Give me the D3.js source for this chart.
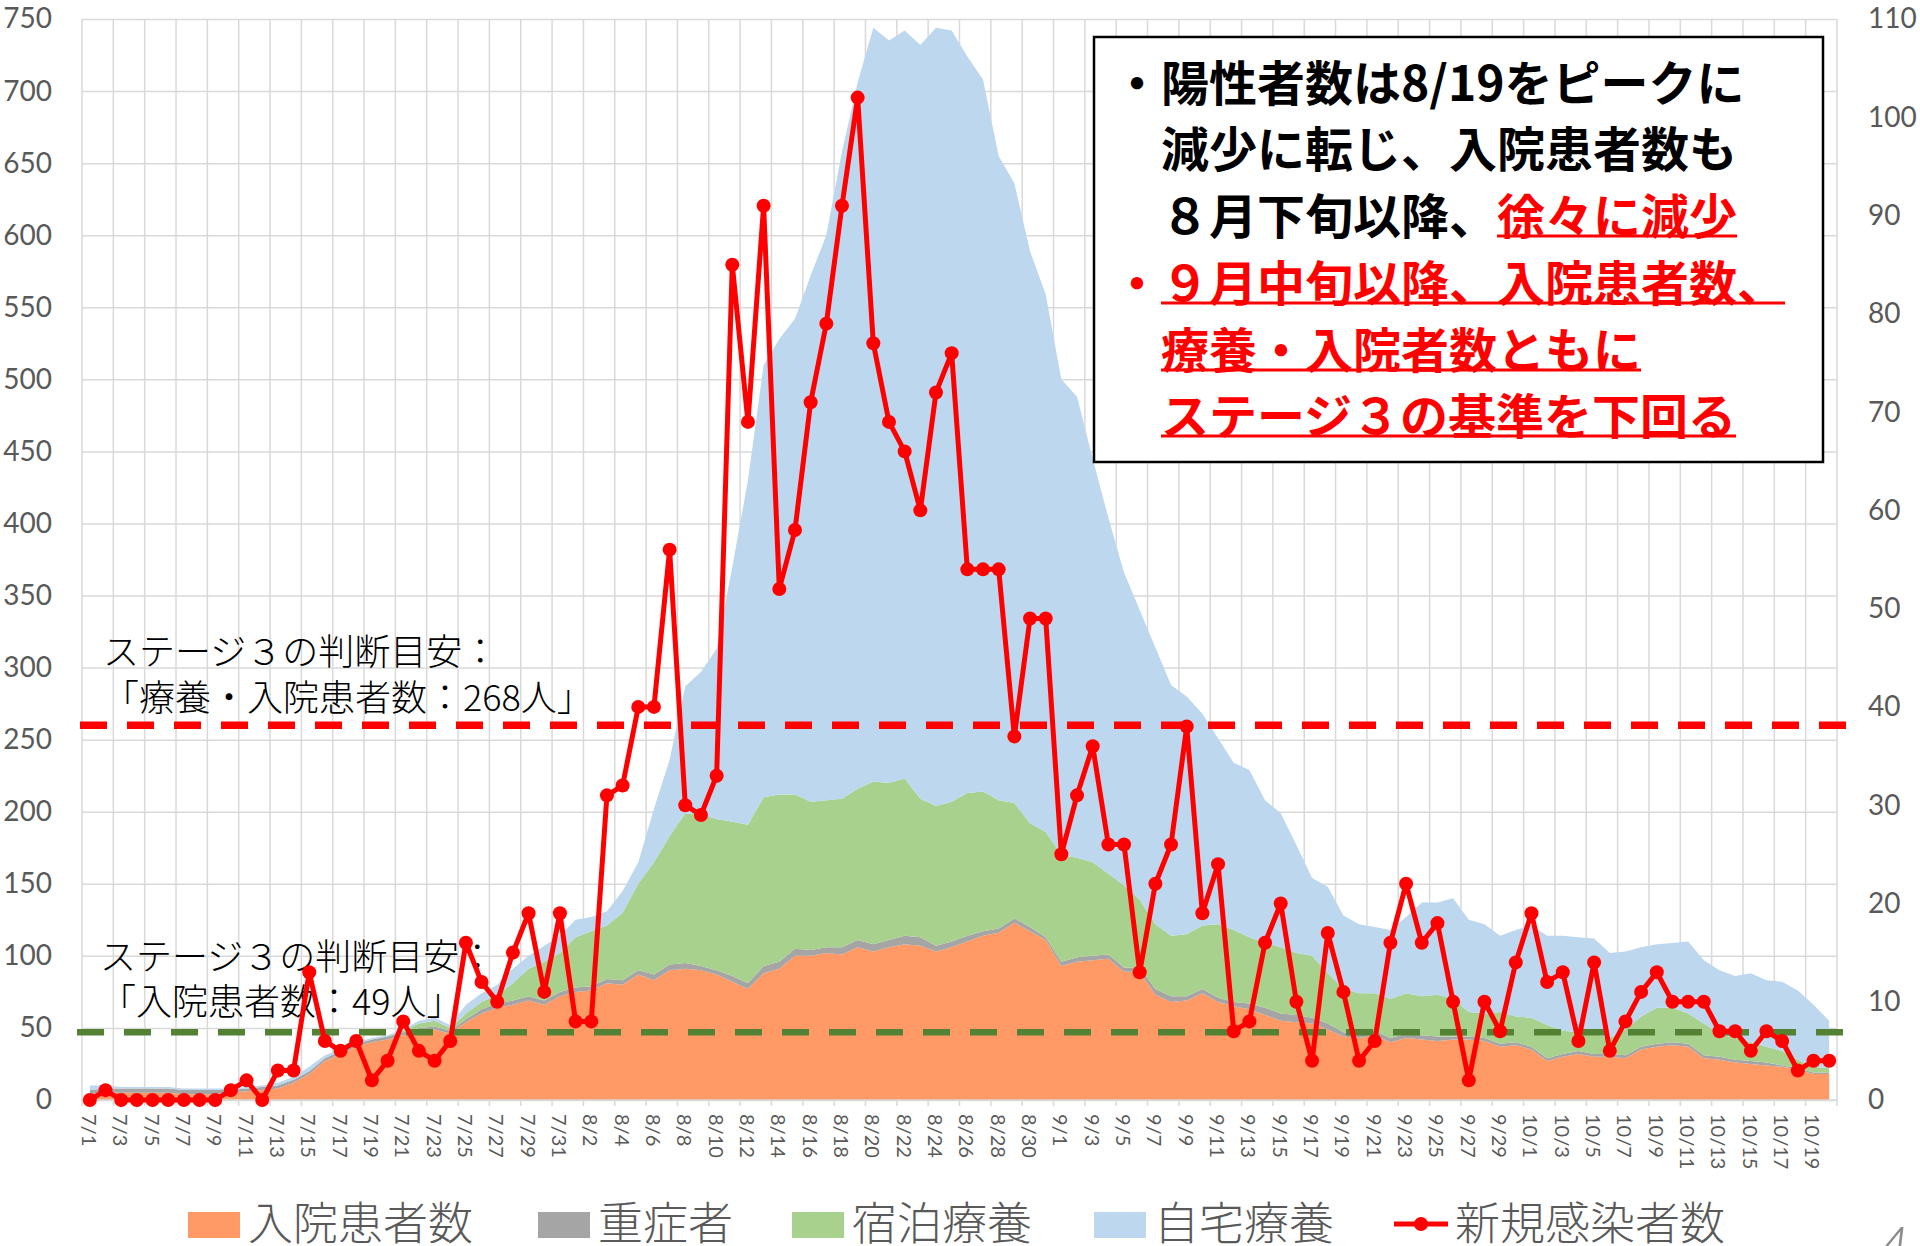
<!DOCTYPE html>
<html><head><meta charset="utf-8">
<script src="https://cdn.jsdelivr.net/npm/d3@7"></script>
<style>body{margin:0;background:#fff;} svg{display:block;}</style>
</head><body>
<svg id="chart" width="1920" height="1246"></svg>
<script>
// ---------- data ----------
const categories = [
 "7/1","7/2","7/3","7/4","7/5","7/6","7/7","7/8","7/9","7/10","7/11","7/12","7/13","7/14","7/15","7/16","7/17","7/18","7/19","7/20","7/21","7/22","7/23","7/24","7/25","7/26","7/27","7/28","7/29","7/30","7/31",
 "8/1","8/2","8/3","8/4","8/5","8/6","8/7","8/8","8/9","8/10","8/11","8/12","8/13","8/14","8/15","8/16","8/17","8/18","8/19","8/20","8/21","8/22","8/23","8/24","8/25","8/26","8/27","8/28","8/29","8/30","8/31",
 "9/1","9/2","9/3","9/4","9/5","9/6","9/7","9/8","9/9","9/10","9/11","9/12","9/13","9/14","9/15","9/16","9/17","9/18","9/19","9/20","9/21","9/22","9/23","9/24","9/25","9/26","9/27","9/28","9/29","9/30",
 "10/1","10/2","10/3","10/4","10/5","10/6","10/7","10/8","10/9","10/10","10/11","10/12","10/13","10/14","10/15","10/16","10/17","10/18","10/19","10/20"];

// 入院患者数
const hospitalized = [
 4,5,5,5,5,5,4,4,4,5,6,7,8,12,18,27,32,37,40,42,45,48,49,46,54,60,64,66,69,66,72,
 75,76,81,80,87,83,90,91,90,87,82,77,88,91,100,100,102,101,106,103,106,108,107,103,106,110,114,116,123,117,111,
 93,96,97,98,89,89,73,68,69,74,68,65,63,59,55,54,53,49,44,43,45,40,43,42,41,42,42,41,37,38,
 35,27,30,32,30,30,29,35,37,38,37,29,28,26,25,24,23,21,18,18];
// 重症者
const severe = [
 3,3,3,3,3,3,3,3,3,2,2,2,2,2,2,2,2,2,2,2,2,2,2,2,2,3,3,3,3,3,3,
 3,3,3,3,3,4,4,4,3,3,4,4,5,5,5,4,4,5,5,5,5,6,6,4,4,4,3,3,3,3,2,
 3,3,3,3,3,3,4,4,3,3,3,3,4,5,5,5,4,4,3,3,3,3,3,3,3,2,2,2,2,2,
 2,2,2,2,2,2,2,2,2,2,2,2,2,2,2,2,1,1,1,1];
// 宿泊療養
const hotel = [
 0,0,0,0,0,0,0,0,0,0,0,0,0,0,0,0,0,0,0,0,1,3,4,2,4,5,6,12,19,27,27,
 35,38,37,47,60,78,89,104,105,105,107,110,117,116,107,103,102,103,105,113,109,109,96,97,97,99,97,89,80,72,73,
 74,69,65,56,57,47,45,42,43,44,51,50,46,45,46,43,43,35,30,28,26,27,28,27,29,26,17,17,22,18,
 20,23,16,13,14,11,18,21,25,24,21,22,16,15,13,11,10,6,4,3];
// 自宅療養
const home = [
 3,2,1,1,1,1,1,1,1,1,1,1,2,2,3,2,1,1,1,1,1,2,2,2,6,6,7,10,9,11,12,
 12,10,10,15,15,37,53,88,99,118,177,239,300,316,330,365,392,449,490,523,515,519,523,540,535,511,494,447,430,397,373,
 330,320,280,247,217,201,192,174,165,147,129,116,116,99,93,75,54,60,51,48,46,48,53,65,64,70,64,62,53,60,
 64,62,66,66,66,59,54,48,44,45,50,44,44,43,48,46,48,48,43,33];
// 新規感染者数 (right axis)
const newCases = [
 0,1,0,0,0,0,0,0,0,1,2,0,3,3,13,6,5,6,2,4,8,5,4,6,16,12,10,15,19,11,19,
 8,8,31,32,40,40,56,30,29,33,85,69,91,52,58,71,79,91,102,77,69,66,60,72,76,54,54,54,37,49,49,
 25,31,36,26,26,13,22,26,38,19,24,7,8,16,20,10,4,17,11,4,6,16,22,16,18,10,2,10,7,14,
 19,12,13,6,14,5,8,11,13,10,10,10,7,7,5,7,6,3,4,4];

const tickLabels = categories.filter((d, i) => i % 2 === 0);
const leftTicks = [0,50,100,150,200,250,300,350,400,450,500,550,600,650,700,750];
const rightTicks = [0,10,20,30,40,50,60,70,80,90,100,110];
const seriesNames = ["入院患者数","重症者","宿泊療養","自宅療養"];
const seriesColors = ["#FF9966","#A5A5A5","#A9D18E","#BDD7EE"];
const lineName = "新規感染者数";
const stage3TotalLine = 260;   // 療養・入院患者数 の目安線（左軸）
const stage3HospLine = 47;     // 入院患者数 の目安線（左軸）

// ---------- setup ----------
const svg = d3.select("#chart");
const P = {left: 82, right: 1837, top: 19, bottom: 1100};
const JP = "'Noto Sans CJK JP', 'Noto Sans CJK SC', sans-serif";
const NUM = "Lato, 'Liberation Sans', sans-serif";

svg.append("rect").attr("width", 1920).attr("height", 1246).attr("fill", "#fff");

const x = d3.scaleBand().domain(categories).range([P.left, P.right]).padding(0);
const cx = d => x(d) + x.bandwidth() / 2;
const yL = d3.scaleLinear().domain([0, 750]).range([P.bottom, P.top]);
const yR = d3.scaleLinear().domain([0, 110]).range([P.bottom, P.top]);

// horizontal grid + left axis labels
const gL = svg.append("g").attr("transform", `translate(${P.left},0)`)
  .call(d3.axisLeft(yL).tickValues(leftTicks).tickSize(-(P.right - P.left)).tickPadding(30));
gL.attr("font-family", null).attr("font-size", null);
gL.select(".domain").remove();
gL.selectAll("line").attr("stroke", "#D9D9D9").attr("stroke-width", 1.5);
gL.selectAll("text").attr("fill", "#595959").style("font-family", NUM).style("font-size", "28px");

// vertical grid lines (every 2 categories) with small tick marks below axis
const vBounds = categories.filter((d, i) => i % 2 === 0).map(d => x(d)).concat([P.right]);
svg.append("g").selectAll("line").data(vBounds).join("line")
  .attr("x1", d => d).attr("x2", d => d).attr("y1", P.top).attr("y2", P.bottom + 6)
  .attr("stroke", "#D9D9D9").attr("stroke-width", 1.5);

// stacked areas
const rows = categories.map((c, i) => ({cat: c, "入院患者数": hospitalized[i], "重症者": severe[i], "宿泊療養": hotel[i], "自宅療養": home[i]}));
const stacked = d3.stack().keys(seriesNames)(rows);
const area = d3.area().x(d => cx(d.data.cat)).y0(d => yL(d[0])).y1(d => yL(d[1]));
svg.append("g").selectAll("path").data(stacked).join("path")
  .attr("d", area).attr("fill", (d, i) => seriesColors[i]);

// x axis line
svg.append("line").attr("x1", P.left).attr("x2", P.right).attr("y1", P.bottom).attr("y2", P.bottom)
  .attr("stroke", "#D9D9D9").attr("stroke-width", 1.5);

// reference dashed lines
svg.append("line").attr("x1", 80).attr("x2", 1848).attr("y1", yL(stage3TotalLine)).attr("y2", yL(stage3TotalLine))
  .attr("stroke", "#FF0000").attr("stroke-width", 7.5).attr("stroke-dasharray", "27 20");
svg.append("line").attr("x1", 77).attr("x2", 1846).attr("y1", yL(stage3HospLine)).attr("y2", yL(stage3HospLine))
  .attr("stroke", "#548235").attr("stroke-width", 6.5).attr("stroke-dasharray", "27 20");

// annotations
const ann = svg.append("g").style("font-family", JP).style("font-size", "36px").style("font-weight", 300).attr("fill", "#000");
ann.append("text").attr("x", 103).attr("y", 649).attr("dominant-baseline", "central").text("ステージ３の判断目安：");
ann.append("text").attr("x", 103).attr("y", 695).attr("dominant-baseline", "central").text("「療養・入院患者数：268人」");
ann.append("text").attr("x", 100).attr("y", 954).attr("dominant-baseline", "central").text("ステージ３の判断目安：");
ann.append("text").attr("x", 100).attr("y", 999).attr("dominant-baseline", "central").text("「入院患者数：49人」");

// new cases line (right axis)
const line = d3.line().x((d, i) => cx(categories[i])).y(d => yR(d));
svg.append("path").datum(newCases).attr("d", line).attr("fill", "none")
  .attr("stroke", "#FF0000").attr("stroke-width", 5).attr("stroke-linejoin", "round");
svg.append("g").selectAll("circle").data(newCases).join("circle")
  .attr("cx", (d, i) => cx(categories[i])).attr("cy", d => yR(d)).attr("r", 7).attr("fill", "#FF0000");

// right axis labels
const gR = svg.append("g").attr("transform", `translate(${P.right},0)`)
  .call(d3.axisRight(yR).tickValues(rightTicks).tickSize(0).tickPadding(31));
gR.attr("font-family", null).attr("font-size", null);
gR.select(".domain").remove();
gR.selectAll("text").attr("fill", "#595959").style("font-family", NUM).style("font-size", "28px");

// x tick labels (rotated)
svg.append("g").selectAll("text").data(tickLabels).join("text")
  .attr("transform", d => `translate(${cx(d)},${P.bottom + 14}) rotate(90)`)
  .attr("dominant-baseline", "central").attr("text-anchor", "start")
  .attr("fill", "#595959").style("font-family", NUM).style("font-size", "20px")
  .text(d => d);

// legend
const lg = svg.append("g").style("font-family", JP).style("font-size", "45px").style("font-weight", 300);
const legendX = [188, 538, 792, 1094];
seriesNames.forEach((n, i) => {
  lg.append("rect").attr("x", legendX[i]).attr("y", 1212).attr("width", 52).attr("height", 26).attr("fill", seriesColors[i]);
  lg.append("text").attr("x", legendX[i] + 60).attr("y", 1220).attr("dominant-baseline", "central").attr("fill", "#595959").text(n);
});
lg.append("line").attr("x1", 1394).attr("x2", 1448).attr("y1", 1224).attr("y2", 1224).attr("stroke", "#FF0000").attr("stroke-width", 5);
lg.append("circle").attr("cx", 1421).attr("cy", 1224).attr("r", 7).attr("fill", "#FF0000");
lg.append("text").attr("x", 1455).attr("y", 1220).attr("dominant-baseline", "central").attr("fill", "#595959").text(lineName);

// page number (partially cut, as in the original slide)
svg.append("text").attr("x", 1874).attr("y", 1272).attr("fill", "#8c8c8c")
  .style("font-family", NUM).style("font-size", "64px").style("font-weight", 300).style("font-style", "italic").text("4");

// text box
const box = svg.append("g");
box.append("rect").attr("x", 1094).attr("y", 37).attr("width", 729).attr("height", 425)
  .attr("fill", "#fff").attr("stroke", "#000").attr("stroke-width", 2.5);
const bt = box.append("g").style("font-family", JP).style("font-size", "48px").style("font-weight", 700);
const tx0 = 1161, bulletX = 1113;
function seg(xp, yp, str, color, underline) {
  const t = bt.append("text").attr("x", xp).attr("y", yp).attr("dominant-baseline", "central").attr("fill", color).text(str);
  const w = t.node().getComputedTextLength();
  if (underline) {
    bt.append("line").attr("x1", xp).attr("x2", xp + w).attr("y1", yp + 23).attr("y2", yp + 23)
      .attr("stroke", color).attr("stroke-width", 3);
  }
  return xp + w;
}
seg(bulletX, 80, "・", "#000", false);
seg(tx0, 80, "陽性者数は8/19をピークに", "#000", false);
seg(tx0, 146, "減少に転じ、入院患者数も", "#000", false);
const x3 = seg(tx0, 213, "８月下旬以降、", "#000", false);
seg(x3, 213, "徐々に減少", "#FF0000", true);
seg(bulletX, 280, "・", "#FF0000", false);
seg(tx0, 280, "９月中旬以降、入院患者数、", "#FF0000", true);
seg(tx0, 347, "療養・入院者数ともに", "#FF0000", true);
seg(tx0, 413, "ステージ３の基準を下回る", "#FF0000", true);
</script>
</body></html>
